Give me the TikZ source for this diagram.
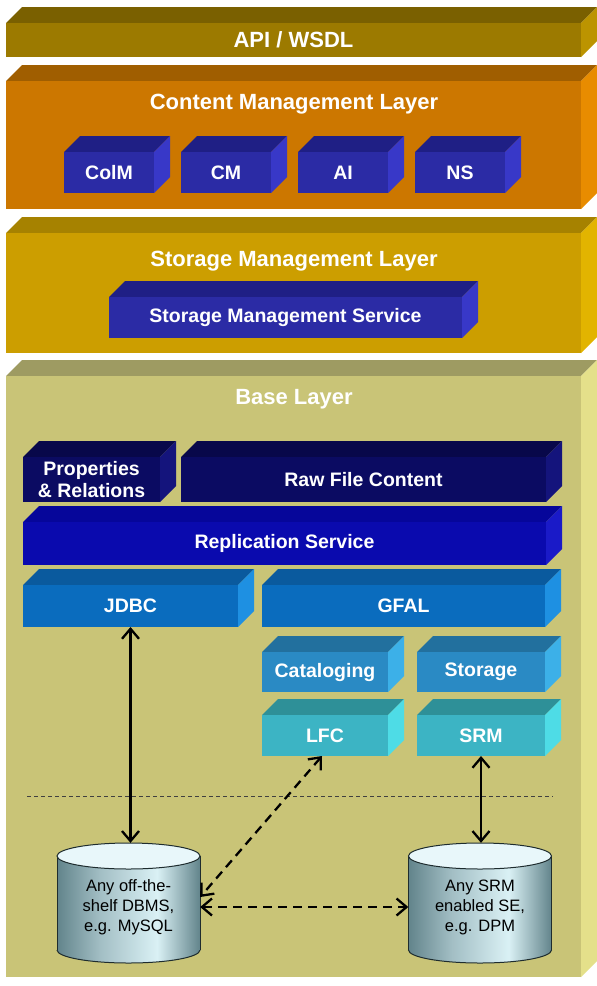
\documentclass[tikz,border=0pt]{standalone}
\usepackage{fontspec}
\setmainfont{Liberation Sans}
\usetikzlibrary{arrows.meta,fit}

% layer slabs: F = front, T = top, S = side
\definecolor{apiF}{HTML}{9C7A00}\definecolor{apiT}{HTML}{7A6000}\definecolor{apiS}{HTML}{BC9400}
\definecolor{cmlF}{HTML}{CC7700}\definecolor{cmlT}{HTML}{A05E00}\definecolor{cmlS}{HTML}{E88C00}
\definecolor{smlF}{HTML}{CC9E00}\definecolor{smlT}{HTML}{A68200}\definecolor{smlS}{HTML}{E2B400}
\definecolor{baseF}{HTML}{C9C477}\definecolor{baseT}{HTML}{9E9B62}\definecolor{baseS}{HTML}{E4E08A}
% component boxes
\definecolor{svcF}{HTML}{2B2BA5}\definecolor{svcT}{HTML}{1F1F85}\definecolor{svcS}{HTML}{3838C8}
\definecolor{navyF}{HTML}{0B0B62}\definecolor{navyT}{HTML}{08084A}\definecolor{navyS}{HTML}{14147C}
\definecolor{replF}{HTML}{0A0AAE}\definecolor{replT}{HTML}{06069A}\definecolor{replS}{HTML}{1A1AC8}
\definecolor{accF}{HTML}{0A6CBE}\definecolor{accT}{HTML}{0A5A9E}\definecolor{accS}{HTML}{1E90E2}
\definecolor{midF}{HTML}{2A8AC4}\definecolor{midT}{HTML}{22709E}\definecolor{midS}{HTML}{3CB0E8}
\definecolor{lowF}{HTML}{3CB4C4}\definecolor{lowT}{HTML}{2E9098}\definecolor{lowS}{HTML}{4EDCE6}
% database cylinders
\definecolor{cylD}{HTML}{62848B}\definecolor{cylM}{HTML}{A2BEC4}\definecolor{cylL}{HTML}{DAF1F5}
\definecolor{cylTop}{HTML}{E8F7FA}\definecolor{cylEdge}{HTML}{1E2C2E}

\pgfdeclarehorizontalshading{cylbody}{100bp}{color(0bp)=(cylD); color(25bp)=(cylD);
  color(40bp)=(cylM); color(60bp)=(cylL); color(75bp)=(cylD); color(100bp)=(cylD)}

\tikzset{
  layertitle/.style={text=white, font=\bfseries\fontsize{22}{24}\selectfont, inner sep=0},
  boxlabel/.style={text=white, font=\bfseries\fontsize{19.5}{22.5}\selectfont, align=center, inner sep=0},
  face/.style={inner sep=0, outer sep=0, fill=#1},
  link/.style={line width=2.3pt, draw=black,
    {Straight Barb[length=10pt,width=17pt]}-{Straight Barb[length=10pt,width=17pt]}},
  dashlink/.style={link, dash pattern=on 9pt off 6pt},
  divider/.style={line width=0.8pt, dash pattern=on 4pt off 3pt, draw=black!75},
  dbtext/.style={font=\fontsize{16.5}{20}\selectfont, align=center, text=black},
}

% \cuboid[label style]{name}{palette}{x0}{y0 front top}{x1}{y1 bottom}{depth}{label}
\newcommand\cuboid[9][boxlabel]{%
  \fill[#3T] (#4,#5) -- ({#4+#8},{#5-#8}) -- ({#6+#8},{#5-#8}) -- (#6,#5) -- cycle;
  \fill[#3S] (#6,#5) -- ({#6+#8},{#5-#8}) -- ({#6+#8},{#7-#8}) -- (#6,#7) -- cycle;
  \node[face=#3F, fit={(#4,#5) (#6,#7)}] (#2) {};
  \node[#1] (#2-label) at (#2.center) {#9};
}

% \dbcyl{name}{centre x}{top ellipse y}{bottom ellipse y}{text}
\newcommand\dbcyl[5]{%
  \shade[shading=cylbody] ({#2-71.5},#3) rectangle ({#2+71.5},#4);
  \shade[shading=cylbody] (#2,#4) ellipse (71.5 and 13);
  \draw[cylEdge, line width=1pt] ({#2-71.5},#3) -- ({#2-71.5},#4)
                                  ({#2+71.5},#3) -- ({#2+71.5},#4);
  \begin{scope}
    \clip ({#2-75},#4) rectangle ({#2+75},{#4+16});
    \draw[cylEdge, line width=1pt] (#2,#4) ellipse (71.5 and 13);
  \end{scope}
  \draw[cylEdge, line width=1pt, fill=cylTop] (#2,#3) ellipse (71.5 and 13);
  \node[inner sep=0, fit={({#2-71.5},{#3-13}) ({#2+71.5},{#4+13})}] (#1) {};
  \node[dbtext] (#1-text) at (#2,{(#3+#4)/2+4}) {#5};
}

\begin{document}
\begin{tikzpicture}[x=1pt, y=-1pt]
\useasboundingbox (0,0) rectangle (597,986);
\fill[white] (0,0) rectangle (597,986);

% ---- layers ----
\cuboid[layertitle]{api}{api}{6}{23}{581}{57}{16}{API / WSDL}
\cuboid{cml}{cml}{6}{81}{581}{209}{16}{}
\cuboid{sml}{sml}{6}{233}{581}{353}{16}{}
\cuboid{base}{base}{6}{376}{581}{977}{16}{}

\node[layertitle] (cmlTitle)  at (294,104) {Content Management Layer};
\node[layertitle] (smlTitle)  at (294,261) {Storage Management Layer};
\node[layertitle] (baseTitle) at (294,399) {Base Layer};

% ---- content management components ----
\cuboid{colm}{svc}{64}{152}{154}{193}{16}{ColM}
\cuboid{cm}{svc}{181}{152}{271}{193}{16}{CM}
\cuboid{ai}{svc}{298}{152}{388}{193}{16}{AI}
\cuboid{ns}{svc}{415}{152}{505}{193}{16}{NS}

% ---- storage management ----
\cuboid{sms}{svc}{109}{297}{462}{338}{16}{Storage Management Service}

% ---- base layer stack ----
\cuboid{props}{navy}{23}{457}{160}{502}{16}{Properties\\[-1pt]\& Relations}
\cuboid{raw}{navy}{181}{457}{546}{502}{16}{Raw File Content}
\cuboid{repl}{repl}{23}{522}{546}{565}{16}{Replication Service}
\cuboid{jdbc}{acc}{23}{585}{238}{627}{16}{JDBC}
\cuboid{gfal}{acc}{262}{585}{545}{627}{16}{GFAL}
\cuboid{catal}{mid}{262}{652}{388}{692}{16}{Cataloging}
\cuboid{stor}{mid}{417}{652}{545}{692}{16}{Storage}
\cuboid{lfc}{low}{262}{715}{388}{756}{16}{LFC}
\cuboid{srm}{low}{417}{715}{545}{756}{16}{SRM}

% ---- separation line ----
\coordinate (divL) at (27,796);
\coordinate (divR) at (553,796);
\draw[divider] (divL) -- (divR);

% ---- back-end stores ----
\dbcyl{dbms}{128.5}{856}{950}{Any off-the-\\shelf DBMS,\\e.g. MySQL}
\dbcyl{se}{480}{856}{950}{Any SRM\\enabled SE,\\e.g. DPM}

% ---- connections ----
\draw[link] (jdbc.south) -- (jdbc.south |- dbms.north);
\draw[link] (srm.south) -- (srm.south |- se.north);
\draw[dashlink] ([xshift=-3pt]lfc.south) -- ([yshift=6pt]dbms.east);
\draw[dashlink] ([yshift=-4pt]dbms.east) -- ([yshift=-4pt]se.west);
\end{tikzpicture}
\end{document}
